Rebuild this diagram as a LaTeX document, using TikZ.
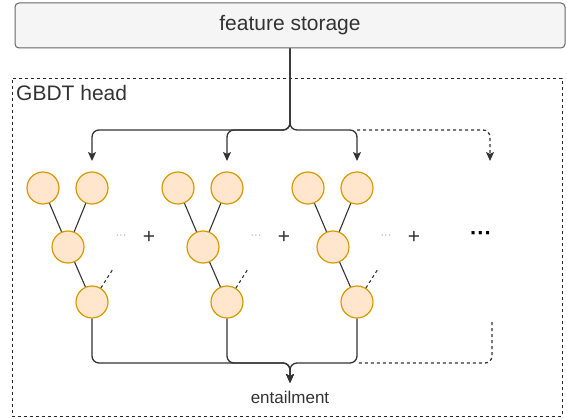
\documentclass[tikz,border=0pt]{standalone}
\usepackage{fontspec}
\setmainfont{Liberation Sans}
\usetikzlibrary{positioning, calc}
\usetikzlibrary{arrows.meta}

\begin{document}
\begin{tikzpicture}[x=1pt, y=-1pt, font=\fontsize{21}{25}\selectfont, >={Stealth[length=9pt, width=8pt, inset=2pt]},
    leaf/.style={circle, draw=leafdraw, fill=leaffill, line width=1.2pt, minimum size=32pt, inner sep=0pt},
    conn/.style={draw=linegray, line width=1.3pt, rounded corners=7pt},
    branch/.style={draw=linegray, line width=1.1pt}]
        % Define colors
        \definecolor{leaffill}{HTML}{FFE6CC}
        \definecolor{leafdraw}{HTML}{D79B00}
        \definecolor{boxfill}{HTML}{F5F5F5}
        \definecolor{boxdraw}{HTML}{666666}
        \definecolor{linegray}{HTML}{333333}

        \useasboundingbox (0,0) rectangle (567,419);

        % Boxes
        \node[draw=boxdraw, fill=boxfill, rounded corners=4pt, line width=1pt, minimum width=550pt, minimum height=45pt, inner sep=0pt, text=linegray] (storage) at (290,25.5) {feature storage};
        \node[draw=black!85, dashed, line width=0.9pt, minimum width=550pt, minimum height=338pt, inner sep=0pt] (head) at (287,247) {};
        \node[anchor=base west, text=linegray, inner sep=0pt] (headlabel) at (16,101) {GBDT head};

        % Trees
        \foreach \i/\x in {1/43, 2/178, 3/308} {
            \node[leaf] (leafA\i) at (\x,188) {};
            \node[leaf] (leafB\i) at (\x+49,188) {};
            \node[leaf] (mid\i) at (\x+25,247) {};
            \node[leaf] (low\i) at (\x+49,302) {};
            \node[text=gray!70, font=\fontsize{11}{13}\selectfont] (dots\i) at (\x+78,237) {···};
            \node[text=linegray, font=\fontsize{21}{25}\selectfont] (plus\i) at (\x+106,237) {+};
            \coordinate (in\i) at (\x+49,161);
            \coordinate (stub\i) at (\x+70,269);
            \draw[branch] (leafA\i) -- (mid\i);
            \draw[branch] (leafB\i) -- (mid\i);
            \draw[branch] (mid\i) -- (low\i);
            \draw[branch, dashed] (low\i) -- (stub\i);
        }
        \node[font=\bfseries\fontsize{22}{26}\selectfont] (moredots) at (481,236) {···};
        \node[text=linegray, font=\fontsize{17}{20}\selectfont] (entail) at (290,397) {entailment};

        % Edges
        \coordinate (fork) at (290,130);
        \coordinate (merge) at (290,363);
        \coordinate (out) at (290,383);
        \coordinate (in4) at (490,161);
        \coordinate (end4) at (492,322);
        \foreach \i in {1,2,3} {
            \draw[conn, ->] (storage.south) -- (fork) -| (in\i);
            \draw[conn, ->] (low\i.south) |- (merge) -- (out);
        }
        \draw[conn, dashed, ->] (in3 |- fork) -| (in4);
        \draw[conn, dashed] (end4) |- (low3 |- merge);
    \end{tikzpicture}
\end{document}
